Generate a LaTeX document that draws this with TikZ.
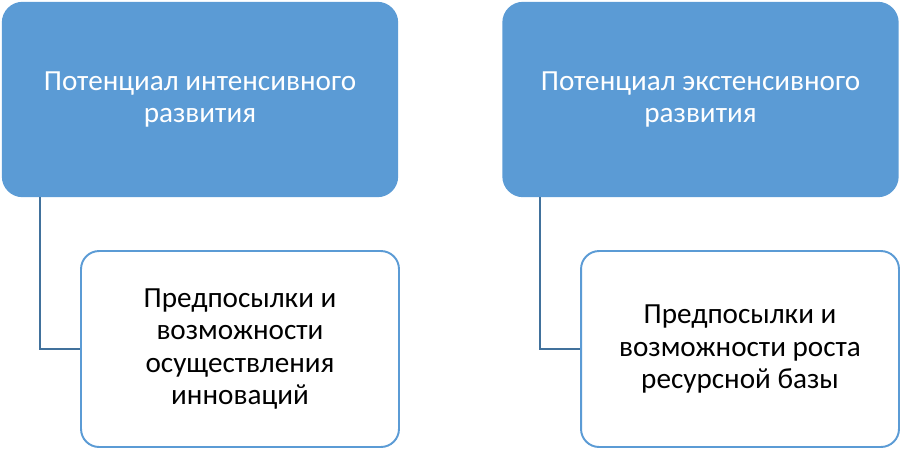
\documentclass[tikz,border=0pt]{standalone}
\usepackage{fontspec}
\setmainfont{Carlito}
\usetikzlibrary{positioning, calc}
\definecolor{accent}{HTML}{5B9BD5}
\definecolor{linkc}{HTML}{41719C}
\tikzset{
    topbox/.style={draw=accent, fill=accent, rounded corners=0.4cm, line width=0.8pt,
        minimum width=7.9cm, minimum height=3.88cm, align=center, text=white,
        font=\fontsize{16.6}{18.3}\selectfont},
    subbox/.style={draw=accent, fill=white, rounded corners=0.36cm, line width=1.1pt,
        minimum width=6.36cm, minimum height=3.92cm, align=center, text=black,
        font=\fontsize{16.6}{18.3}\selectfont},
    link/.style={draw=linkc, line width=1pt}
}
\begin{document}
\begin{tikzpicture}[x=0.02cm, y=-0.02cm]
    \useasboundingbox (0,0) rectangle (901,451);
    % top boxes
    \node[topbox] (pot1) at (200,99.5) {Потенциал интенсивного\\развития};
    \node[topbox] (pot2) at (700.5,99.5) {Потенциал экстенсивного\\развития};
    % sub boxes
    \node[subbox] (pre1) at (240,349) {Предпосылки и\\возможности\\осуществления\\инноваций};
    \node[subbox] (pre2) at (740,349) {Предпосылки и\\возможности роста\\ресурсной базы};
    % connectors
    \coordinate (c1) at (40,197);
    \coordinate (c2) at (540,197);
    \draw[link] (c1) |- (pre1.west);
    \draw[link] (c2) |- (pre2.west);
\end{tikzpicture}
\end{document}
